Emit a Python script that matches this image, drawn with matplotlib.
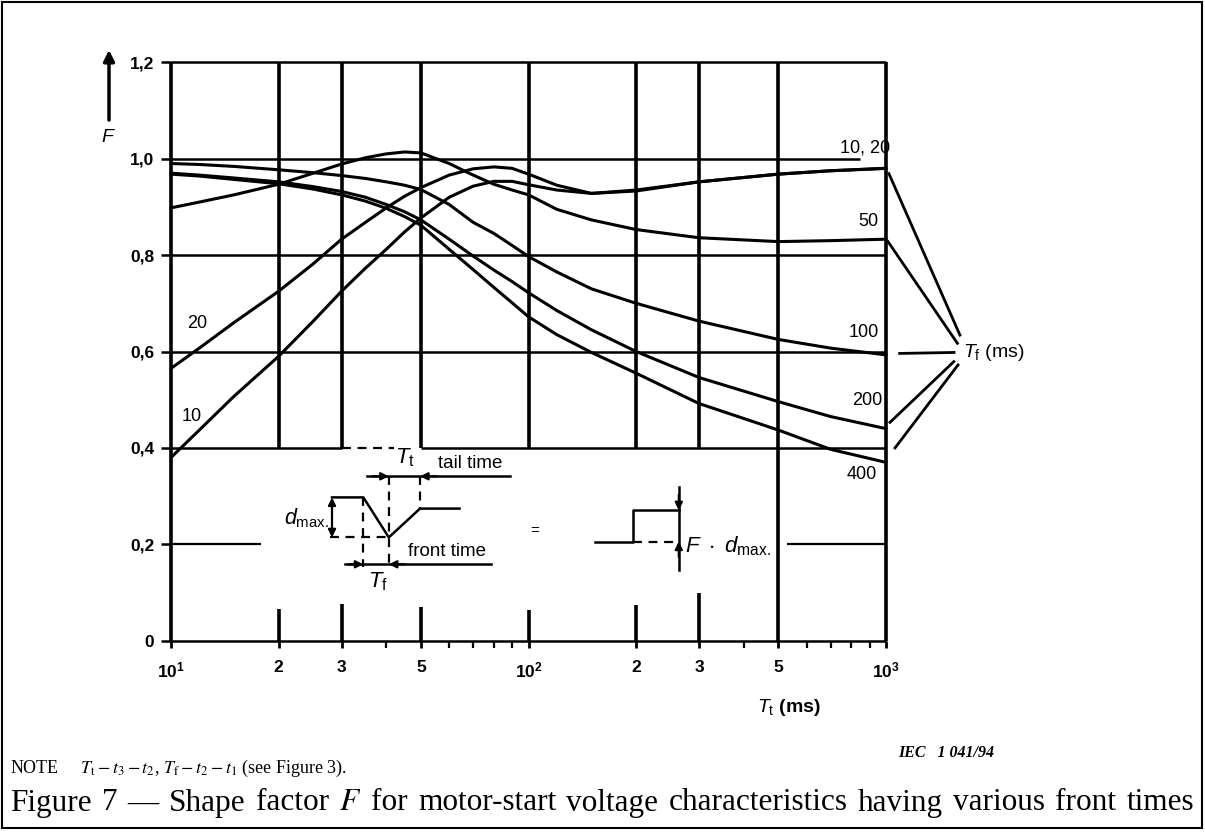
import matplotlib
matplotlib.use('Agg')
import matplotlib.pyplot as plt
from matplotlib.ticker import FixedLocator, NullFormatter
from matplotlib.patches import Rectangle

plt.rcParams['font.family'] = ['Liberation Sans', 'DejaVu Sans']
plt.rcParams['mathtext.fontset'] = 'custom'
plt.rcParams['mathtext.rm'] = 'Liberation Sans'
plt.rcParams['mathtext.it'] = 'Liberation Sans:italic'
plt.rcParams['mathtext.bf'] = 'Liberation Sans:bold'

#--- valores ---#
tiempo_cola = [10, 12, 15, 20, 25, 30, 35, 40, 45, 50, 60, 70, 80, 90,
               100, 120, 150, 200, 300, 500, 700, 1000]
f_tf10 = [0.38, 0.437, 0.507, 0.59, 0.663, 0.725, 0.773, 0.812, 0.848, 0.877,
          0.92, 0.943, 0.953, 0.953, 0.946, 0.935, 0.928, 0.935, 0.952, 0.968,
          0.975, 0.98]
f_tf20 = [0.565, 0.607, 0.66, 0.725, 0.782, 0.833, 0.868, 0.898, 0.922, 0.94,
          0.966, 0.979, 0.983, 0.98, 0.968, 0.945, 0.928, 0.933, 0.952, 0.968,
          0.975, 0.98]
f_tf50 = [0.898, 0.91, 0.925, 0.947, 0.97, 0.989, 1.002, 1.01, 1.014, 1.012,
          0.99, 0.966, 0.947, 0.935, 0.925, 0.895, 0.873, 0.853, 0.836, 0.828,
          0.83, 0.833]
f_tf100 = [0.99, 0.988, 0.984, 0.977, 0.971, 0.965, 0.959, 0.952, 0.945, 0.936,
           0.905, 0.868, 0.845, 0.82, 0.797, 0.765, 0.73, 0.70, 0.663, 0.625,
           0.607, 0.593]
f_tf200 = [0.97, 0.966, 0.96, 0.952, 0.942, 0.932, 0.92, 0.905, 0.89, 0.873,
           0.833, 0.798, 0.769, 0.745, 0.722, 0.685, 0.645, 0.60, 0.546, 0.496,
           0.465, 0.44]
f_tf400 = [0.968, 0.964, 0.957, 0.948, 0.937, 0.925, 0.912, 0.897, 0.88, 0.862,
           0.812, 0.77, 0.733, 0.701, 0.672, 0.635, 0.598, 0.555, 0.492, 0.437,
           0.397, 0.37]
curvas = [f_tf10, f_tf20, f_tf50, f_tf100, f_tf200, f_tf400]

ticks_x = [10, 20, 30, 50, 100, 200, 300, 500, 1000]
etiquetas_x = [r'$\mathbf{10}^{\mathbf{1}}$', '2', '3', '5', r'$\mathbf{10}^{\mathbf{2}}$',
               '2', '3', '5', r'$\mathbf{10}^{\mathbf{3}}$']
ticks_x_menores = [40, 60, 70, 80, 90, 400, 600, 700, 800, 900]
ticks_y = [0, 0.2, 0.4, 0.6, 0.8, 1.0, 1.2]
etiquetas_y = ['0', '0,2', '0,4', '0,6', '0,8', '1,0', '1,2']

titulo = 'Figure 7 \u2014 Shape factor $F$ for motor-start voltage characteristics having various front times'
nota = r'NOTE     $T_{\rm t} - t_3 - t_2$, $T_{\rm f} - t_2 - t_1$ (see Figure 3).'

#--- figura ---#
fig = plt.figure(figsize=(12.05, 8.32), dpi=100)
ax = fig.add_axes([171/1205, 1-640.7/832, 715/1205, 578.4/832])
ax.set_xscale('log')
ax.set_xlim(10, 1000)
ax.set_ylim(0, 1.2)
for s in ax.spines.values():
    s.set_visible(False)

# rejilla (con los huecos del dibujo original)
ax.vlines([10, 500, 1000], 0, 1.2, color='k', lw=2.6, clip_on=False)
ax.vlines([20, 30, 50, 100, 200, 300], 0.4, 1.2, color='k', lw=2.6, clip_on=False)
for xv, tope in zip([20, 30, 50, 100, 200, 300], [0.066, 0.077, 0.07, 0.064, 0.074, 0.10]):
    ax.vlines(xv, 0, tope, color='k', lw=2.6, clip_on=False)
ax.hlines([1.2, 0.8, 0.6, 0.0], 10, 1000, color='k', lw=1.8, clip_on=False)
ax.hlines(1.0, 10, 845, color='k', lw=1.8)
ax.hlines(0.4, 10, 30, color='k', lw=1.8)
ax.hlines(0.4, 30, 42, color='k', lw=1.6, linestyles=(0, (4, 3)))
ax.hlines(0.4, 50, 1000, color='k', lw=1.8)
ax.hlines(0.2, 10, 17.8, color='k', lw=1.6)
ax.hlines(0.2, 530, 1000, color='k', lw=1.6)

for f in curvas:
    ax.plot(tiempo_cola, f, color='k', lw=2.2, solid_joinstyle='round',
            solid_capstyle='round', clip_on=False)

ax.set_xticks(ticks_x)
ax.set_xticklabels(etiquetas_x)
ax.xaxis.set_minor_locator(FixedLocator(ticks_x_menores))
ax.xaxis.set_minor_formatter(NullFormatter())
ax.set_yticks(ticks_y)
ax.set_yticklabels(etiquetas_y)
ax.tick_params(axis='x', which='major', direction='out', length=5, width=2, pad=9, labelsize=12.5)
ax.tick_params(axis='x', which='minor', direction='out', length=5, width=1.6)
ax.tick_params(axis='y', direction='out', length=7, width=1.8, pad=5, labelsize=12.5)
for t in ax.get_xticklabels() + ax.get_yticklabels():
    t.set_fontweight('bold')

# etiquetas de las curvas
ax.text(1030, 1.023, '10, 20', ha='right', va='center', fontsize=13)
ax.text(955, 0.87, '50', ha='right', va='center', fontsize=13)
ax.text(955, 0.64, '100', ha='right', va='center', fontsize=13)
ax.text(980, 0.499, '200', ha='right', va='center', fontsize=13)
ax.text(945, 0.344, '400', ha='right', va='center', fontsize=13)
ax.text(11.8, 0.658, '20', ha='center', va='center', fontsize=13)
ax.text(11.4, 0.465, '10', ha='center', va='center', fontsize=13)

# lineas hacia T_f (ms)
for x0, y0, x1, y1 in [(1019, 0.969, 1610, 0.634), (1013, 0.828, 1584, 0.617),
                       (1092, 0.596, 1550, 0.598), (1026, 0.453, 1548, 0.579),
                       (1060, 0.40, 1590, 0.572)]:
    ax.plot([x0, x1], [y0, y1], color='k', lw=2.0, clip_on=False)
ax.text(1640, 0.598, r'$T_{\rm f}$ (ms)', ha='left', va='center', fontsize=14)

#--- capa en pixeles para el esquema y los textos ---#
ov = fig.add_axes([0, 0, 1, 1], zorder=5)
ov.set_xlim(0, 1205)
ov.set_ylim(832, 0)
ov.axis('off')
ov.patch.set_alpha(0)

ov.add_patch(Rectangle((2, 2), 1200, 826, fill=False, lw=1.5, ec='k'))

# eje F
ov.annotate('', xy=(109, 50), xytext=(109, 120),
            arrowprops=dict(arrowstyle='-|>', lw=2.5, color='k', mutation_scale=16,
                            shrinkA=0, shrinkB=0))
ov.text(108, 137, '$F$', ha='center', va='center', fontsize=14)
ov.text(757, 707, r'$T_{\rm t}$ (ms)', ha='left', va='center', fontsize=14, weight='bold')
ov.text(898, 753, 'IEC   1 041/94', ha='left', va='center', fontsize=11.5,
        style='italic', weight='bold', family='Liberation Serif')

kw = dict(color='k', lw=1.8)
kd = dict(color='k', lw=1.6, ls=(0, (4, 3)))
# pulso
ov.plot([332, 363.4, 388.8, 420, 459.5], [497.4, 497.4, 537.4, 508.6, 508.6], **kw)
ov.plot([330, 388.8], [537.4, 537.4], **kd)
ov.plot([363.4, 363.4], [497.4, 567], **kd)
ov.plot([388.8, 388.8], [476.3, 567], **kd)
ov.plot([420, 420], [476.3, 508.6], **kd)
ap = dict(arrowstyle='-|>', lw=1.6, color='k', mutation_scale=11, shrinkA=0, shrinkB=0)
ov.annotate('', xy=(332, 497.4), xytext=(332, 517), arrowprops=ap)
ov.annotate('', xy=(332, 537.4), xytext=(332, 517), arrowprops=ap)
ov.plot([366.9, 509.7], [476.3, 476.3], **kw)
ov.annotate('', xy=(388.8, 476.3), xytext=(372, 476.3), arrowprops=ap)
ov.annotate('', xy=(420, 476.3), xytext=(437, 476.3), arrowprops=ap)
ov.plot([344.6, 491.4], [564.3, 564.3], **kw)
ov.annotate('', xy=(363.4, 564.3), xytext=(348, 564.3), arrowprops=ap)
ov.annotate('', xy=(388.8, 564.3), xytext=(405, 564.3), arrowprops=ap)
ov.text(404.7, 458, r'$T_{\rm t}$', ha='center', va='center', fontsize=16)
ov.text(470, 464, 'tail time', ha='center', va='center', fontsize=13.5)
ov.text(447, 551, 'front time', ha='center', va='center', fontsize=13.5)
ov.text(378, 582, r'$T_{\rm f}$', ha='center', va='center', fontsize=16)
ov.text(329, 518, r'$d_{\rm max.}$', ha='right', va='center', fontsize=15.5)
ov.text(535, 531, '=', ha='center', va='center', fontsize=11)
# escalon
ov.plot([594.6, 632.8, 632.8, 678.8], [541.5, 541.5, 510.3, 510.3], **kw)
ov.plot([632.8, 678.8], [541.5, 541.5], **kd)
ov.plot([678.8, 678.8], [487.2, 570.4], **kw)
ov.annotate('', xy=(678.8, 510.3), xytext=(678.8, 495), arrowprops=ap)
ov.annotate('', xy=(678.8, 541.5), xytext=(678.8, 557), arrowprops=ap)
ov.text(685, 546, r'$F\ \cdot\ d_{\rm max.}$', ha='left', va='center', fontsize=16)

# nota y titulo
ov.text(10, 768, nota, ha='left', va='center', fontsize=13,
        family='Liberation Serif', math_fontfamily='stix')

# el titulo va palabra por palabra para ocupar todo el ancho, como en el original
renderer = fig.canvas.get_renderer()
palabras = [ov.text(0, 803, w, ha='left', va='center', fontsize=22.5,
                    family='Liberation Serif', math_fontfamily='stix')
            for w in titulo.split(' ')]
anchos = [p.get_window_extent(renderer).width for p in palabras]
hueco = (1194 - 10 - sum(anchos)) / (len(palabras) - 1)
xpos = 10
for p, w in zip(palabras, anchos):
    p.set_x(xpos)
    xpos += w + hueco

fig.savefig('out.png', dpi=100)
